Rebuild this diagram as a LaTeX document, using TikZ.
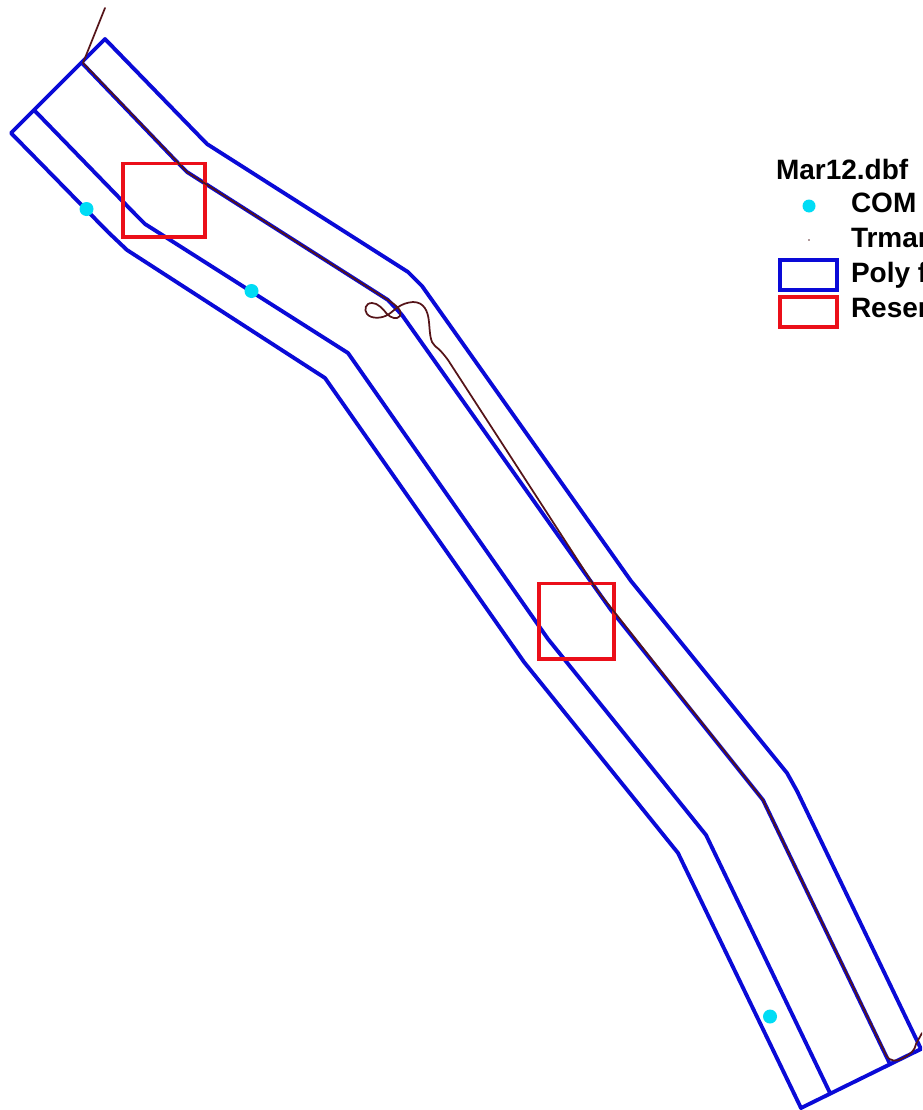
\documentclass[tikz,border=0pt]{standalone}
\usepackage{fontspec}
\setmainfont{Liberation Sans}
\definecolor{polyblue}{RGB}{10,10,215}
\definecolor{resred}{RGB}{235,15,25}
\definecolor{comcyan}{RGB}{0,220,245}
\definecolor{track}{RGB}{85,20,25}
\tikzset{
  polyline/.style={draw=polyblue,line width=2.9pt,line join=round,line cap=round},
  resbox/.style={draw=resred,line width=2.5pt,line join=miter},
  trackline/.style={draw=track,line width=1.3pt,line join=round,line cap=round},
  comdot/.style={fill=comcyan,draw=none},
  legendtext/.style={anchor=base west,inner sep=0pt,outer sep=0pt,font=\fontsize{21}{24}\selectfont\bfseries}
}
\begin{document}
\begin{tikzpicture}[x=0.75pt,y=-0.75pt]
\useasboundingbox (0,0) rectangle (922,1110);
\clip (0,0) rectangle (922,1110);
\fill[white] (0,0) rectangle (922,1110);
% outer polygon
\draw[polyline] (105,39) -- (207,144) -- (408,272) -- (422,286) -- (631,581) -- (787,773) -- (797,791) -- (921,1049) -- (801,1108) -- (678,853) -- (524,662) -- (325,378) -- (127,250) -- (108,232) -- (11,133) -- cycle;
% centre lines
\draw[polyline] (82,63) -- (178,163) -- (187,172) -- (388,300) -- (402,315) -- (611,610) -- (763,800) -- (889,1062);
\draw[polyline] (35,111) -- (135,214) -- (145,224) -- (348,353) -- (548,639) -- (706,835) -- (830,1093);
% reserve boxes
\draw[resbox] (123,163.5) rectangle (205,237);
\draw[resbox] (539,583.5) rectangle (614,659);
% track
\draw[trackline] (105,8) -- (83,63) -- (187,172) -- (388,300)
  .. controls (396,305) and (403,311) .. (400,316)
  .. controls (397,320) and (391,318) .. (387,314)
  .. controls (383,309) and (378,303) .. (372,303)
  .. controls (365,303) and (364,310) .. (367,314)
  .. controls (371,319) and (382,319) .. (389,314)
  .. controls (395,310) and (400,303) .. (413,302)
  .. controls (424,302) and (428,311) .. (429,322)
  .. controls (430,333) and (430,342) .. (435,346)
  .. controls (440,350) and (442,352) .. (448,360)
  -- (597,590) -- (763,800) -- (886,1055)
  .. controls (890,1062) and (897,1062) .. (903,1058)
  .. controls (911,1054) and (915,1050) .. (916,1044)
  -- (922,1033);
% COM points
\fill[comdot] (86.5,209) circle (7);
\fill[comdot] (251.5,291) circle (7);
\fill[comdot] (770,1016.5) circle (7);
% legend
\node[legendtext] (title) at (776,179) {Mar12.dbf};
\fill[comdot] (809,206) circle (6.5);
\node[legendtext] (com) at (851,212) {COM};
\fill[track!70!gray] (809,240) circle (0.8);
\node[legendtext] (trm) at (851,247) {Trmar};
\draw[polyline,line cap=butt,line join=miter] (780,260) rectangle (837,290);
\node[legendtext] (poly) at (851,282) {Poly f};
\draw[resbox] (780,297) rectangle (837,327);
\node[legendtext] (res) at (851,317) {Reser};
\end{tikzpicture}
\end{document}
